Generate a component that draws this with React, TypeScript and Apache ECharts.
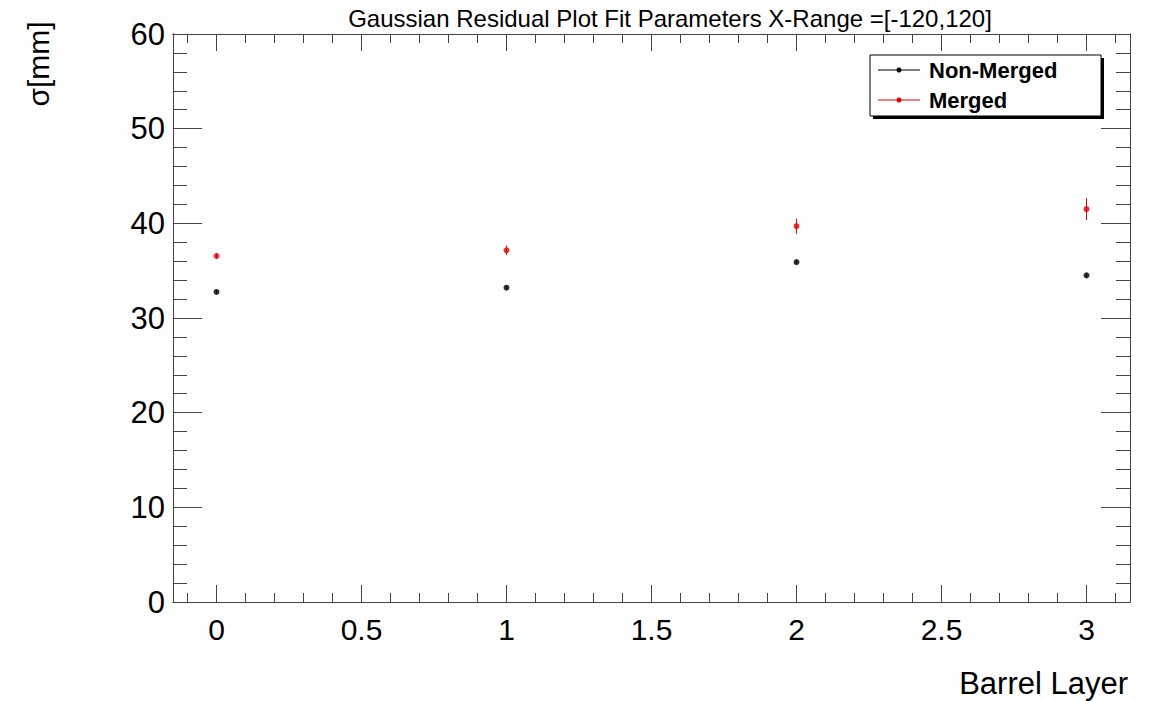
import React, { useEffect, useRef } from "react";
import * as echarts from "echarts";

const layers = [0, 1, 2, 3];
const nonMerged = [32.75, 33.2, 35.9, 34.5];
const nonMergedErr = [0.15, 0.15, 0.2, 0.25];
const merged = [36.55, 37.15, 39.7, 41.5];
const mergedErr = [0.3, 0.5, 0.8, 1.15];
const xMajorTicks = [0, 0.5, 1, 1.5, 2, 2.5, 3];
const yMajorTicks = [0, 10, 20, 30, 40, 50, 60];
const xMinorTicks: number[] = [];
for (let i = -1; i <= 31; i++) xMinorTicks.push(Math.round(i) / 10);
const yMinorTicks: number[] = [];
for (let i = 0; i <= 30; i++) yMinorTicks.push(i * 2);

const FONT = "Liberation Sans, Arial, Helvetica, sans-serif";
const AX = "#444";

export default function App() {
  const ref = useRef<HTMLDivElement>(null);
  useEffect(() => {
    if (!ref.current) return;
    const chart = echarts.init(ref.current, undefined, { renderer: "svg" });

    const xBase = (position: string, custom: number[], len: number, labels: boolean) => ({
      type: "value",
      min: -0.15,
      max: 3.15,
      position,
      gridIndex: 0,
      axisLine: { show: true, onZero: false, lineStyle: { color: AX, width: 1 } },
      axisTick: { show: true, inside: true, length: len, customValues: custom, lineStyle: { color: AX } },
      axisLabel: labels
        ? { show: true, customValues: xMajorTicks, fontSize: 30, fontFamily: FONT, color: "#000", margin: 12 }
        : { show: false },
      splitLine: { show: false },
    });
    const yBase = (position: string, custom: number[], len: number, labels: boolean) => ({
      type: "value",
      min: 0,
      max: 60,
      position,
      gridIndex: 0,
      axisLine: { show: true, onZero: false, lineStyle: { color: AX, width: 1 } },
      axisTick: { show: true, inside: true, length: len, customValues: custom, lineStyle: { color: AX } },
      axisLabel: labels
        ? { show: true, customValues: yMajorTicks, fontSize: 31, fontFamily: FONT, color: "#000", margin: 8 }
        : { show: false },
      splitLine: { show: false },
    });

    const errSeries = (vals: number[], errs: number[], color: string) => ({
      type: "custom",
      xAxisIndex: 0,
      yAxisIndex: 0,
      data: layers.map((x, i) => [x, vals[i] - errs[i], vals[i] + errs[i]]),
      renderItem: (params: any, api: any) => {
        const p1 = api.coord([api.value(0), api.value(1)]);
        const p2 = api.coord([api.value(0), api.value(2)]);
        return {
          type: "line",
          shape: { x1: p1[0], y1: p1[1], x2: p2[0], y2: p2[1] },
          style: { stroke: color, lineWidth: 1 },
        };
      },
      z: 2,
    });

    chart.setOption({
      animation: false,
      backgroundColor: "#fff",
      grid: { left: 173, top: 34, right: 32, bottom: 99, containLabel: false },
      title: {
        text: "Gaussian Residual Plot Fit Parameters X-Range =[-120,120]",
        left: 665,
        textAlign: "center",
        top: 1,
        textStyle: { fontSize: 24, fontWeight: "normal", fontFamily: FONT, color: "#000" },
      },
      xAxis: [
        xBase("bottom", xMajorTicks, 17, true),
        xBase("bottom", xMinorTicks, 9, false),
        xBase("top", xMajorTicks, 17, false),
        xBase("top", xMinorTicks, 9, false),
      ],
      yAxis: [
        yBase("left", yMajorTicks, 29, true),
        yBase("left", yMinorTicks, 14, false),
        yBase("right", yMajorTicks, 29, false),
        yBase("right", yMinorTicks, 14, false),
      ],
      series: [
        errSeries(nonMerged, nonMergedErr, "#000"),
        errSeries(merged, mergedErr, "#e00000"),
        {
          name: "Non-Merged",
          type: "scatter",
          xAxisIndex: 0,
          yAxisIndex: 0,
          symbol: "circle",
          symbolSize: 6,
          itemStyle: { color: "#000" },
          data: layers.map((x, i) => [x, nonMerged[i]]),
          z: 3,
        },
        {
          name: "Merged",
          type: "scatter",
          xAxisIndex: 0,
          yAxisIndex: 0,
          symbol: "circle",
          symbolSize: 6,
          itemStyle: { color: "#e00000" },
          data: layers.map((x, i) => [x, merged[i]]),
          z: 3,
        },
      ],
      graphic: [
        {
          type: "text",
          x: 1128,
          y: 683,
          style: {
            text: "Barrel Layer",
            fontSize: 31,
            fontFamily: FONT,
            fill: "#000",
            align: "right",
            verticalAlign: "middle",
          },
        },
        {
          type: "text",
          x: 38,
          y: 64,
          rotation: Math.PI / 2,
          style: {
            text: "σ[mm]",
            fontSize: 30,
            fontFamily: FONT,
            fill: "#000",
            align: "center",
            verticalAlign: "middle",
          },
        },
        {
          type: "rect",
          shape: { x: 873, y: 58, width: 231, height: 61 },
          style: { fill: "#000" },
          z: 10,
        },
        {
          type: "rect",
          shape: { x: 870, y: 55, width: 231, height: 61 },
          style: { fill: "#fff", stroke: "#000", lineWidth: 1 },
          z: 11,
        },
        {
          type: "line",
          shape: { x1: 878, y1: 70, x2: 920, y2: 70 },
          style: { stroke: "#000", lineWidth: 1 },
          z: 12,
        },
        {
          type: "circle",
          shape: { cx: 899, cy: 70, r: 2.5 },
          style: { fill: "#000" },
          z: 12,
        },
        {
          type: "text",
          x: 929,
          y: 70,
          style: {
            text: "Non-Merged",
            fontSize: 22,
            fontWeight: "bold",
            fontFamily: FONT,
            fill: "#000",
            verticalAlign: "middle",
          },
          z: 12,
        },
        {
          type: "line",
          shape: { x1: 878, y1: 100, x2: 920, y2: 100 },
          style: { stroke: "#e00000", lineWidth: 1 },
          z: 12,
        },
        {
          type: "circle",
          shape: { cx: 899, cy: 100, r: 2.5 },
          style: { fill: "#e00000" },
          z: 12,
        },
        {
          type: "text",
          x: 929,
          y: 100,
          style: {
            text: "Merged",
            fontSize: 22,
            fontWeight: "bold",
            fontFamily: FONT,
            fill: "#000",
            verticalAlign: "middle",
          },
          z: 12,
        },
      ],
    });
    return () => chart.dispose();
  }, []);
  return (
    <div
      ref={ref}
      style={{ position: "fixed", left: 0, top: 0, width: 1162, height: 701, background: "#fff" }}
    />
  );
}
